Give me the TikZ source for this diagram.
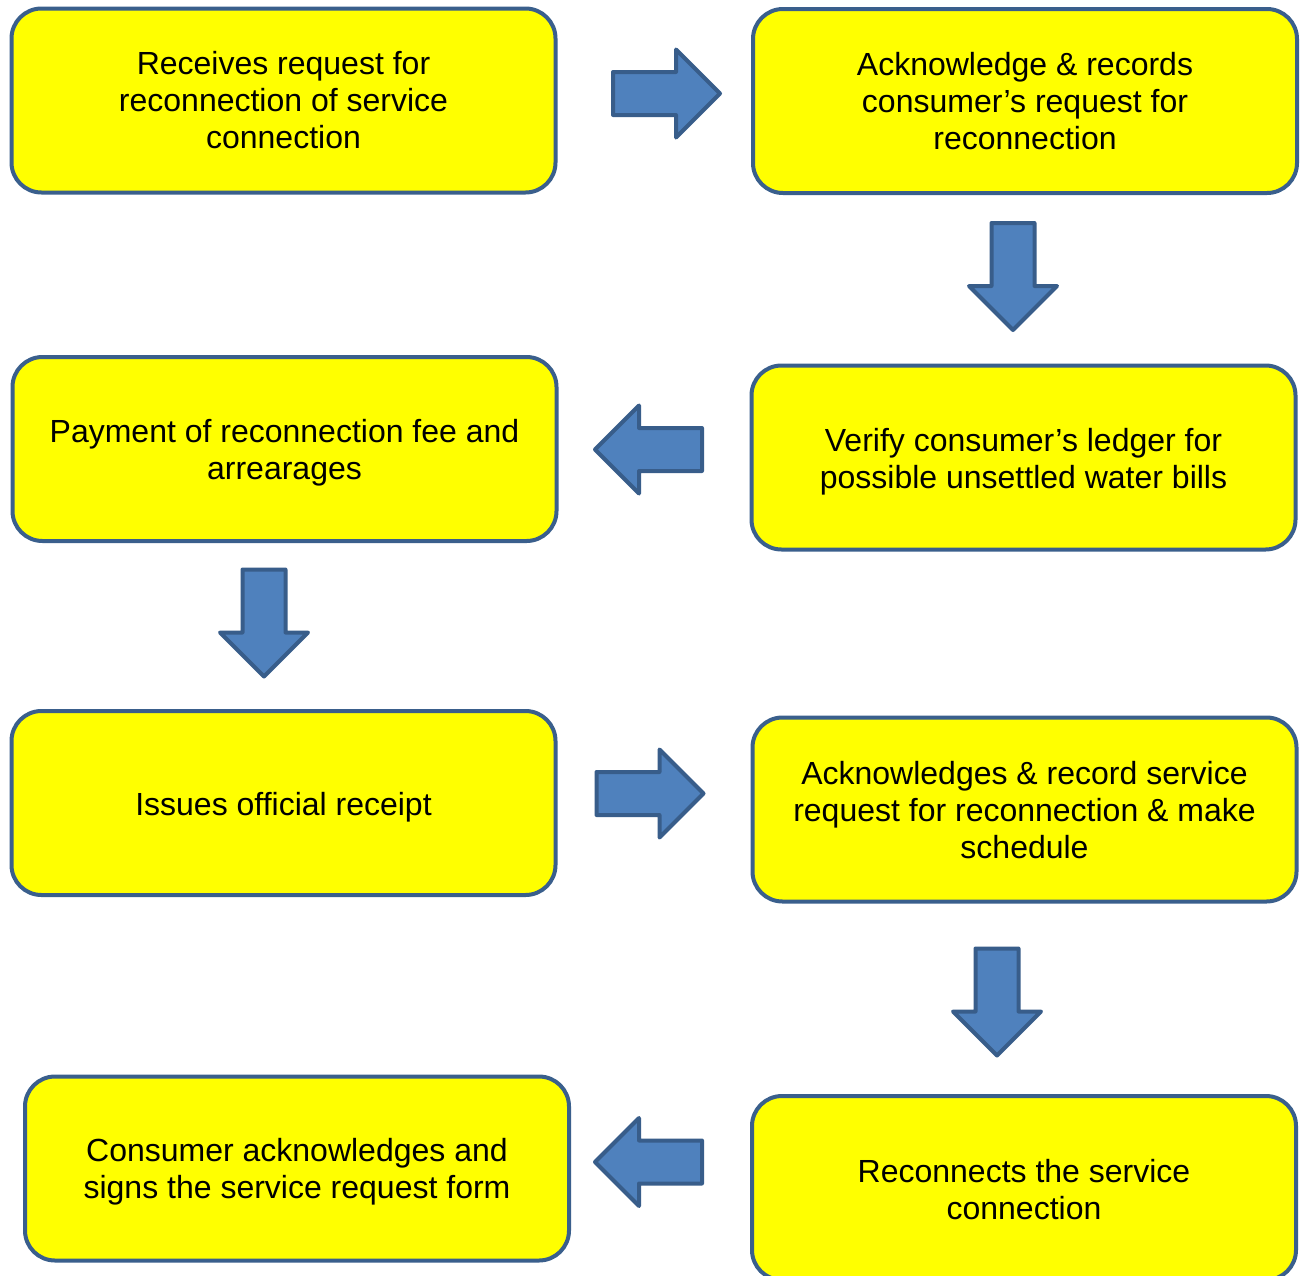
\documentclass[tikz,border=0pt]{standalone}
\usepackage{fontspec}
\setmainfont{Liberation Sans}
\definecolor{boxfill}{HTML}{FFFF00}
\definecolor{boxline}{HTML}{3A5F8C}
\definecolor{arrfill}{HTML}{4F81BD}
\definecolor{arrline}{HTML}{385D8A}
\begin{document}
\begin{tikzpicture}[x=1pt,y=-1pt,
  stepbox/.style={draw=boxline, fill=boxfill, line width=4pt, rounded corners=30pt,
    minimum width=544pt, minimum height=184pt, inner sep=0pt},
  steptext/.style={align=center, inner sep=0pt,
    font=\fontsize{32}{37}\selectfont, text=black},
  blockarrow/.pic={
    \path[draw=arrline, fill=arrfill, line width=4pt, line join=round]
      (-53.5,-21.5) -- (9.5,-21.5) -- (9.5,-44) -- (53.5,0) -- (9.5,44) -- (9.5,21.5) -- (-53.5,21.5) -- cycle;
  }]
\clip (0,0) rectangle (1301,1275);
\fill[white] (0,0) rectangle (1301,1275);
\node[stepbox] (b1) at (283.5,100.5) {};
\node[stepbox] (b2) at (1025,101) {};
\node[stepbox] (b3) at (284.5,449) {};
\node[stepbox] (b4) at (1023.5,457.5) {};
\node[stepbox] (b5) at (283.5,803) {};
\node[stepbox] (b6) at (1024.5,809.5) {};
\node[stepbox] (b7) at (297,1168.5) {};
\node[stepbox] (b8) at (1024,1188) {};
\node[steptext] (t1) at (b1.center) {Receives request for\\reconnection of service\\connection};
\node[steptext] (t2) at (b2.center) {Acknowledge \& records\\consumer’s request for\\reconnection};
\node[steptext] (t3) at ([yshift=-4pt]b3.center) {Payment of reconnection fee and\\arrearages};
\node[steptext] (t4) at ([yshift=-4pt]b4.center) {Verify consumer’s ledger for\\possible unsettled water bills};
\node[steptext] (t5) at ([yshift=-4pt]b5.center) {Issues official receipt};
\node[steptext] (t6) at ([yshift=-1pt]b6.center) {Acknowledges \& record service\\request for reconnection \& make\\schedule};
\node[steptext] (t7) at ([yshift=-3.5pt]b7.center) {Consumer acknowledges and\\signs the service request form};
\node[steptext] (t8) at ([yshift=-1.5pt]b8.center) {Reconnects the service\\connection};
\pic at (666.5,93.5) {blockarrow};
\pic[rotate=-90] at (1013,276.5) {blockarrow};
\pic[rotate=180] at (648.5,449.5) {blockarrow};
\pic[rotate=-90] at (264,623) {blockarrow};
\pic at (650,793.5) {blockarrow};
\pic[rotate=-90] at (997,1002) {blockarrow};
\pic[rotate=180] at (648.5,1162) {blockarrow};
\end{tikzpicture}
\end{document}
